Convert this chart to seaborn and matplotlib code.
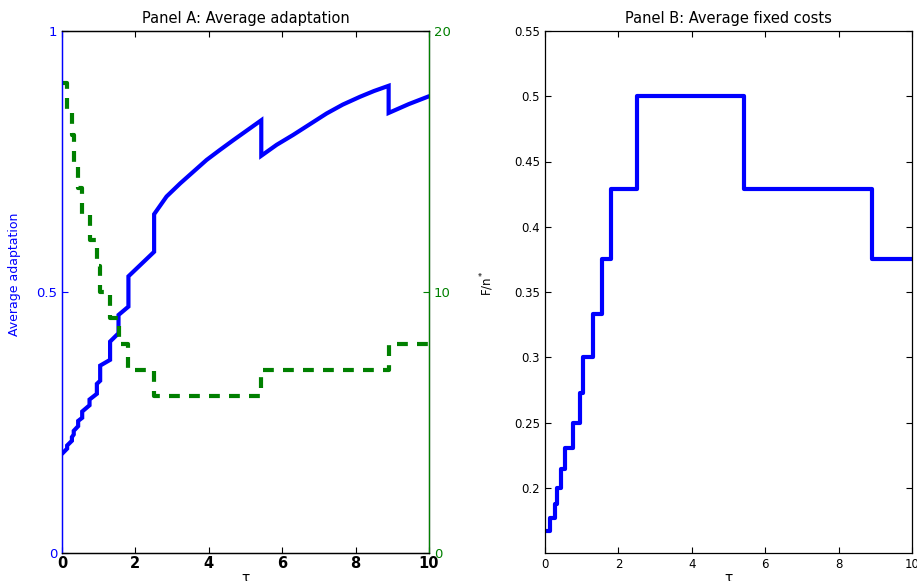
import matplotlib
matplotlib.use("Agg")
import matplotlib.pyplot as plt
import seaborn as sns
import pandas as pd

# ---- data ----
# Panel A, blue: average adaptation (jumps appear as repeated tau values)
adapt_tau = [0.00, 0.14, 0.14, 0.27, 0.27, 0.32, 0.32, 0.44, 0.44, 0.55, 0.55,
             0.75, 0.75, 0.95, 0.95, 1.04, 1.04, 1.31, 1.31, 1.54, 1.54,
             1.81, 1.81, 2.51, 2.51, 2.85, 3.22, 3.94, 4.30, 4.67, 5.43, 5.43,
             5.85, 6.30, 7.21, 7.65, 8.12, 8.50, 8.90, 8.90, 9.45, 10.00]
adapt_val = [0.190, 0.200, 0.206, 0.215, 0.222, 0.227, 0.234, 0.243, 0.253, 0.259, 0.271,
             0.283, 0.294, 0.305, 0.324, 0.330, 0.359, 0.370, 0.405, 0.421, 0.456,
             0.472, 0.530, 0.577, 0.649, 0.683, 0.708, 0.753, 0.772, 0.791, 0.829, 0.761,
             0.782, 0.801, 0.842, 0.859, 0.874, 0.885, 0.895, 0.843, 0.860, 0.875]

# Panel A, green dashed: number of firms n* (step function, right axis)
n_tau = [0.00, 0.14, 0.27, 0.32, 0.44, 0.55, 0.75, 0.95, 1.04, 1.31, 1.54, 1.81, 2.51, 5.43, 8.90, 10.00]
n_val = [18, 17, 16, 15, 14, 13, 12, 11, 10, 9, 8, 7, 6, 7, 8, 8]

# Panel B: average fixed costs F/n* (step function)
f_tau = [0.00, 0.14, 0.27, 0.32, 0.44, 0.55, 0.75, 0.95, 1.04, 1.31, 1.54, 1.81, 2.51, 5.43, 8.90, 10.00]
f_val = [0.1667, 0.1765, 0.1875, 0.2000, 0.2143, 0.2308, 0.2500, 0.2727, 0.3000,
         0.3333, 0.3750, 0.4286, 0.5000, 0.4286, 0.3750, 0.3750]

x_ticks = [0, 2, 4, 6, 8, 10]
a_left_ticks = [0, 0.5, 1]
a_left_labels = ["0", "0.5", "1"]
a_right_ticks = [0, 10, 20]
b_yticks = [0.2, 0.25, 0.3, 0.35, 0.4, 0.45, 0.5, 0.55]
b_ylabels = ["0.2", "0.25", "0.3", "0.35", "0.4", "0.45", "0.5", "0.55"]

df_a = pd.DataFrame({"tau": adapt_tau, "adapt": adapt_val})
df_n = pd.DataFrame({"tau": n_tau, "n": n_val})
df_f = pd.DataFrame({"tau": f_tau, "F": f_val})

sns.set_style("ticks")
plt.rcParams["font.family"] = ["DejaVu Sans"]
plt.rcParams["xtick.direction"] = "in"
plt.rcParams["ytick.direction"] = "in"
plt.rcParams["text.color"] = "black"
plt.rcParams["axes.labelcolor"] = "black"
plt.rcParams["xtick.color"] = "black"
plt.rcParams["ytick.color"] = "black"
plt.rcParams["axes.edgecolor"] = "black"

BLUE = "#0000ff"
GREEN = "#008000"
W, H = 917, 581
fig = plt.figure(figsize=(W / 100, H / 100), dpi=100)

# ---------------- Panel A ----------------
axA = fig.add_axes([62 / W, 1 - 553 / H, 367 / W, 522 / H])
sns.lineplot(data=df_a, x="tau", y="adapt", ax=axA, color=BLUE, lw=3.0,
             sort=False, estimator=None, solid_joinstyle="miter")
axA.set_xlim(0, 10)
axA.set_ylim(0, 1)
axA.set_xticks(x_ticks)
axA.set_xticklabels([str(t) for t in x_ticks], fontsize=10.5, fontweight="bold")
axA.set_yticks(a_left_ticks)
axA.set_yticklabels(a_left_labels, fontsize=9.5, color=BLUE)
axA.tick_params(axis="y", colors=BLUE, length=4, width=0.8)
axA.tick_params(axis="x", top=True, length=4, width=0.8, pad=2, colors="black")
axA.set_ylabel("Average adaptation", color=BLUE, fontsize=9)
axA.yaxis.set_label_coords(-0.112, 0.533)
axA.set_xlabel("τ", fontsize=10, labelpad=0, color="black")
axA.set_title("Panel A: Average adaptation", fontsize=10.5, pad=6, color="black")
axA.spines["left"].set_color(BLUE)
for s in ["top", "bottom", "right"]:
    axA.spines[s].set_color("black")
for s in axA.spines.values():
    s.set_linewidth(0.9)

axA2 = axA.twinx()
sns.lineplot(data=df_n, x="tau", y="n", ax=axA2, color=GREEN, lw=3.0,
             sort=False, estimator=None, drawstyle="steps-post")
axA2.lines[0].set_dashes([2.6, 2.2])
axA2.set_xlim(0, 10)
axA2.set_ylim(0, 20)
axA2.set_yticks(a_right_ticks)
axA2.set_yticklabels([str(t) for t in a_right_ticks], fontsize=9.5, color=GREEN)
axA2.tick_params(axis="y", colors=GREEN, length=4, width=0.8)
axA2.set_ylabel("")
axA2.spines["right"].set_color(GREEN)
axA2.spines["left"].set_color(BLUE)
axA2.spines["top"].set_color("black")
axA2.spines["bottom"].set_color("black")
for s in axA2.spines.values():
    s.set_linewidth(0.9)

# ---------------- Panel B ----------------
axB = fig.add_axes([545 / W, 1 - 553 / H, 367 / W, 522 / H])
sns.lineplot(data=df_f, x="tau", y="F", ax=axB, color=BLUE, lw=3.0,
             sort=False, estimator=None, drawstyle="steps-post")
axB.set_xlim(0, 10)
axB.set_ylim(0.15, 0.55)
axB.set_xticks(x_ticks)
axB.set_xticklabels([str(t) for t in x_ticks], fontsize=8.5)
axB.set_yticks(b_yticks)
axB.set_yticklabels(b_ylabels, fontsize=8.5)
axB.tick_params(axis="both", top=True, right=True, length=4, width=0.8, colors="black")
axB.set_ylabel("F/n$^*$", fontsize=8.5, color="black")
axB.yaxis.set_label_coords(-0.133, 0.517)
axB.set_xlabel("τ", fontsize=10, labelpad=0, color="black")
axB.set_title("Panel B: Average fixed costs", fontsize=10.5, pad=6, color="black")
for s in axB.spines.values():
    s.set_color("black")
    s.set_linewidth(0.9)
    s.set_visible(True)

fig.savefig("out.png", dpi=100)
